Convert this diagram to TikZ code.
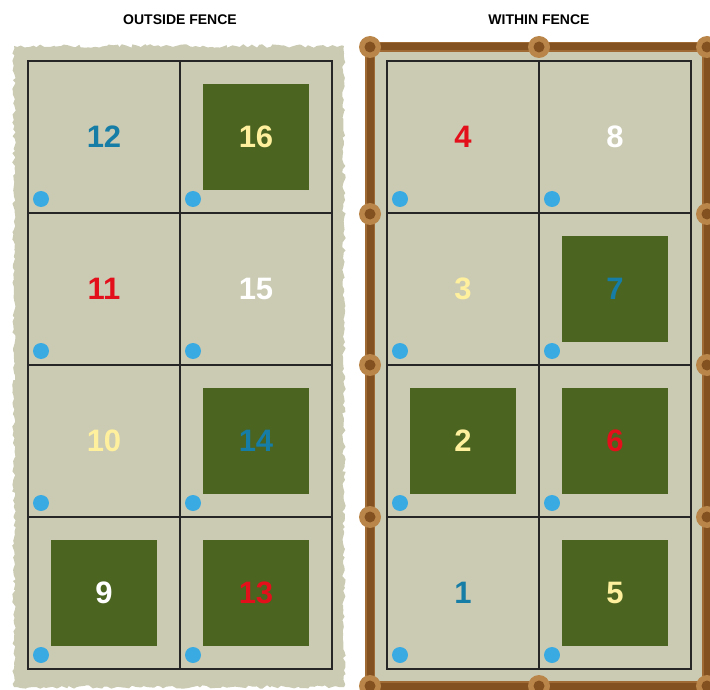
\documentclass[tikz,border=0pt]{standalone}
\usepackage{fontspec}
\setmainfont{Liberation Sans}
\usetikzlibrary{decorations.pathmorphing}
\definecolor{plotbeige}{HTML}{CBCBB3}
\definecolor{plotgreen}{HTML}{4B6420}
\definecolor{dotblue}{HTML}{3AAAE2}
\definecolor{numteal}{HTML}{167DA6}
\definecolor{numred}{HTML}{E3101C}
\definecolor{numyellow}{HTML}{FFF09E}
\definecolor{fencedark}{HTML}{83501F}
\definecolor{fencelight}{HTML}{A06A35}
\definecolor{postlight}{HTML}{B98549}

\begin{document}
\begin{tikzpicture}[x=1pt, y=-1pt,
    title/.style={font=\bfseries\fontsize{14}{16}\selectfont},
    num/.style={font=\bfseries\fontsize{31}{33}\selectfont},
    grid line/.style={line width=1.6pt, draw=black!85},
    bed/.style={fill=plotgreen},
    marker/.style={fill=dotblue}]
    \useasboundingbox (0,0) rectangle (710,690);
    \clip (0,0) rectangle (710,690);

    % titles
    \node[title] (outside) at (180,20) {OUTSIDE FENCE};
    \node[title] (within) at (539,20) {WITHIN FENCE};

    % open plot with a rough edge
    \fill[plotbeige, decorate, decoration={random steps, segment length=3.5pt, amplitude=1.8pt}] (14,46) rectangle (344,687);

    % fenced plot
    \fill[plotbeige] (370,47) rectangle (707,686);
    \draw[fencelight, line width=10pt] (370,47) rectangle (707,686);
    \draw[fencedark, line width=7pt] (370,47) rectangle (707,686);
    \foreach \px in {370,707}
      \foreach \py in {47,214,365,517,686} {
        \fill[postlight] (\px,\py) circle (11pt);
        \fill[fencedark] (\px,\py) circle (5.5pt);
      }
    \foreach \py in {47,686} {
      \fill[postlight] (539,\py) circle (11pt);
      \fill[fencedark] (539,\py) circle (5.5pt);
    }

    % green beds
    \foreach \cx/\cy in {256/137, 256/441, 104/593, 256/593, 615/289, 463/441, 615/441, 615/593}
      \fill[bed] (\cx-53,\cy-53) rectangle ++(106,106);

    % grids
    \foreach \gx in {28,387} {
      \draw[grid line] (\gx,61) rectangle ++(304,608);
      \draw[grid line] (\gx+152,61) -- ++(0,608);
      \foreach \ry in {213,365,517}
        \draw[grid line] (\gx,\ry) -- ++(304,0);
    }

    % blue markers
    \foreach \mx in {41,193,400,552}
      \foreach \my in {199,351,503,655}
        \fill[marker] (\mx,\my) circle (8pt);

    % plot numbers
    \foreach \cx/\cy/\n/\c in {104/137/12/numteal, 256/137/16/numyellow, 104/289/11/numred, 256/289/15/white,
        104/441/10/numyellow, 256/441/14/numteal, 104/593/9/white, 256/593/13/numred,
        463/137/4/numred, 615/137/8/white, 463/289/3/numyellow, 615/289/7/numteal,
        463/441/2/numyellow, 615/441/6/numred, 463/593/1/numteal, 615/593/5/numyellow}
      \node[num, text=\c] (n\n) at (\cx,\cy) {\n};
\end{tikzpicture}
\end{document}
